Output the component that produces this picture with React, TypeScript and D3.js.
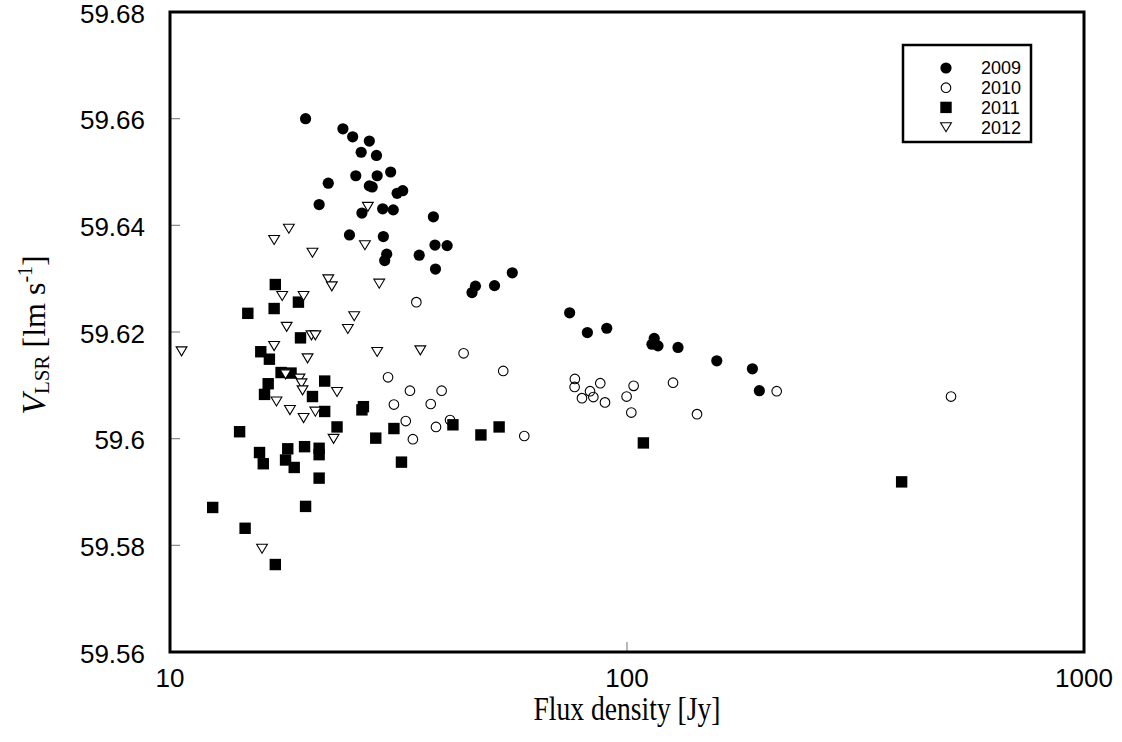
import * as d3 from 'd3'

// [flux density (Jy), V_LSR (km/s)]
const obs2009: [number, number][] = [
  [19.8, 59.66], [23.9, 59.6581], [25.1, 59.6566], [27.3, 59.6558], [26.2, 59.6537],
  [28.3, 59.6531], [30.4, 59.65], [25.5, 59.6493], [28.4, 59.6493], [27.3, 59.6474],
  [27.7, 59.6472], [22.2, 59.6479], [31.4, 59.646], [32.3, 59.6465], [21.2, 59.6439],
  [26.3, 59.6423], [29.2, 59.6431], [30.8, 59.6429], [37.7, 59.6416], [24.7, 59.6382],
  [29.3, 59.6379], [38.0, 59.6363], [40.4, 59.6362], [29.8, 59.6346], [29.5, 59.6334],
  [35.1, 59.6344], [38.1, 59.6318], [56.1, 59.6311], [46.6, 59.6286], [45.8, 59.6274],
  [51.3, 59.6287], [74.9, 59.6236], [81.9, 59.6199], [90.3, 59.6207], [114.7, 59.6188],
  [113.4, 59.6177], [116.9, 59.6174], [129.3, 59.6171], [157.2, 59.6146], [188.1, 59.6131],
  [194.8, 59.609],
]

const obs2010: [number, number][] = [
  [34.6, 59.6256], [30.0, 59.6115], [33.5, 59.609], [39.3, 59.609], [30.9, 59.6064],
  [37.2, 59.6065], [32.8, 59.6033], [38.2, 59.6022], [41.0, 59.6035], [34.0, 59.5999],
  [43.9, 59.616], [53.6, 59.6127], [59.6, 59.6005], [76.9, 59.6112], [76.8, 59.6097],
  [83.0, 59.6089], [87.4, 59.6104], [79.7, 59.6076], [84.4, 59.6078], [89.5, 59.6068],
  [99.8, 59.6079], [103.4, 59.6099], [102.2, 59.6049], [126.1, 59.6105], [142.3, 59.6046],
  [212.6, 59.6089], [511.7, 59.6079],
]

const obs2011: [number, number][] = [
  [17.0, 59.6289], [14.8, 59.6235], [16.9, 59.6244], [19.1, 59.6256], [19.3, 59.6189],
  [15.8, 59.6163], [16.5, 59.6149], [17.5, 59.6124], [18.4, 59.6123], [21.8, 59.6108],
  [16.4, 59.6103], [16.1, 59.6083], [20.5, 59.6079], [21.8, 59.6051], [26.5, 59.606],
  [26.3, 59.6054], [23.2, 59.6022], [14.2, 59.6013], [28.2, 59.6001], [30.9, 59.6019],
  [41.6, 59.6026], [15.7, 59.5974], [18.1, 59.5981], [19.7, 59.5985], [21.2, 59.5982],
  [21.2, 59.597], [16.0, 59.5953], [17.9, 59.596], [18.7, 59.5946], [21.2, 59.5926],
  [32.1, 59.5956], [12.4, 59.5871], [19.8, 59.5873], [14.6, 59.5832], [17.0, 59.5764],
  [47.9, 59.6007], [52.5, 59.6022], [108.6, 59.5992], [399.0, 59.5919],
]

const obs2012: [number, number][] = [
  [27.1, 59.6435], [18.2, 59.6394], [16.9, 59.6373], [20.5, 59.6349], [26.7, 59.6363],
  [22.2, 59.6299], [22.6, 59.6286], [28.7, 59.6291], [17.6, 59.6268], [19.6, 59.6268],
  [25.3, 59.623], [18.0, 59.621], [24.5, 59.6206], [20.4, 59.6194], [20.8, 59.6194],
  [16.9, 59.6174], [10.6, 59.6164], [28.4, 59.6163], [35.3, 59.6166], [20.0, 59.6151],
  [17.9, 59.6121], [19.2, 59.6113], [19.4, 59.6104], [19.5, 59.6091], [23.2, 59.6088],
  [17.1, 59.607], [18.3, 59.6054], [19.6, 59.6039], [20.8, 59.6051], [22.8, 59.6],
  [15.9, 59.5794],
]

const years = ['2009', '2010', '2011', '2012']
const xTicks = [10, 100, 1000]
const yTicks = [59.56, 59.58, 59.6, 59.62, 59.64, 59.66, 59.68]

const W = 1122
const H = 742
const plot = { left: 170, right: 1084, top: 12, bottom: 652 }

const sansFont = '"Liberation Sans", Arial, sans-serif'
const serifFont = '"Liberation Serif", "Times New Roman", serif'

function Marker({ kind, cx, cy }: { kind: string; cx: number; cy: number }) {
  if (kind === '2009') return <circle cx={cx} cy={cy} r={5.6} fill="#000" />
  if (kind === '2010') return <circle cx={cx} cy={cy} r={4.8} fill="none" stroke="#000" strokeWidth={1.1} />
  if (kind === '2011') return <rect x={cx - 5.7} y={cy - 5.7} width={11.4} height={11.4} fill="#000" />
  return (
    <polygon
      points={`${cx - 5.4},${cy - 4.3} ${cx + 5.4},${cy - 4.3} ${cx},${cy + 4.7}`}
      fill="#fff"
      stroke="#000"
      strokeWidth={1.1}
    />
  )
}

export default function App() {
  const x = d3.scaleLog().domain([10, 1000]).range([plot.left, plot.right])
  const y = d3.scaleLinear().domain([59.56, 59.68]).range([plot.bottom, plot.top])
  const series: Record<string, [number, number][]> = {
    '2009': obs2009,
    '2010': obs2010,
    '2011': obs2011,
    '2012': obs2012,
  }
  const fmt = (v: number) => String(+v.toFixed(2))
  const midY = (plot.top + plot.bottom) / 2

  return (
    <svg
      width={W}
      height={H}
      viewBox={`0 0 ${W} ${H}`}
      style={{ position: 'absolute', left: 0, top: 0, background: '#fff' }}
    >
      <rect x={0} y={0} width={W} height={H} fill="#fff" />

      {/* inner ticks */}
      {yTicks.slice(1, -1).map((t) => (
        <line key={'yt' + t} x1={plot.left} x2={plot.left + 10} y1={y(t)} y2={y(t)} stroke="#888" strokeWidth={1.2} />
      ))}
      {xTicks.slice(1, -1).map((t) => (
        <line key={'xt' + t} x1={x(t)} x2={x(t)} y1={plot.bottom} y2={plot.bottom - 10} stroke="#888" strokeWidth={1.2} />
      ))}

      {/* points */}
      {years.map((yr) => (
        <g key={yr}>
          {series[yr].map(([f, v], i) => (
            <Marker key={i} kind={yr} cx={x(f)} cy={y(v)} />
          ))}
        </g>
      ))}

      {/* frame */}
      <rect
        x={plot.left}
        y={plot.top}
        width={plot.right - plot.left}
        height={plot.bottom - plot.top}
        fill="none"
        stroke="#000"
        strokeWidth={3}
      />

      {/* tick labels */}
      {yTicks.map((t) => (
        <text
          key={'yl' + t}
          x={145}
          y={y(t) + 10.5}
          textAnchor="end"
          fontFamily={sansFont}
          fontSize={26}
          fill="#000"
        >
          {fmt(t)}
        </text>
      ))}
      {xTicks.map((t) => (
        <text
          key={'xl' + t}
          x={x(t)}
          y={687}
          textAnchor="middle"
          fontFamily={sansFont}
          fontSize={26}
          fill="#000"
        >
          {t}
        </text>
      ))}

      {/* axis titles */}
      <text
        x={(plot.left + plot.right) / 2}
        y={720}
        textAnchor="middle"
        fontFamily={serifFont}
        fontSize={33}
        textLength={187}
        lengthAdjust="spacingAndGlyphs"
        fill="#000"
      >
        Flux density [Jy]
      </text>
      <text
        transform={`translate(45, ${midY + 3}) rotate(-90)`}
        textAnchor="middle"
        fontFamily={serifFont}
        fontSize={32}
        fill="#000"
      >
        <tspan fontStyle="italic" fontSize={34}>V</tspan>
        <tspan fontSize={21} dy={4}>LSR</tspan>
        <tspan dy={-4}> [lm s</tspan>
        <tspan fontSize={20} dy={-13}>-1</tspan>
        <tspan dy={13}>]</tspan>
      </text>

      {/* legend */}
      <rect x={903} y={45} width={128} height={97} fill="#fff" stroke="#000" strokeWidth={2.5} />
      {years.map((yr, i) => (
        <g key={'lg' + yr}>
          <Marker kind={yr} cx={946} cy={68 + i * 19.7} />
          <text x={981} y={68 + i * 19.7} dy="0.36em" fontFamily={sansFont} fontSize={18} fill="#000">
            {yr}
          </text>
        </g>
      ))}
    </svg>
  )
}
